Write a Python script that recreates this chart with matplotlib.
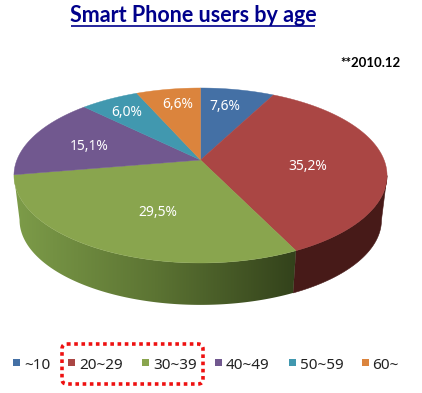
import numpy as np
import matplotlib
matplotlib.use('Agg')
import matplotlib.pyplot as plt
from matplotlib.colors import LinearSegmentedColormap
from matplotlib.patches import Polygon, FancyBboxPatch

ages = ['~10', '20~29', '30~39', '40~49', '50~59', '60~']
shares = [7.6, 35.2, 29.5, 15.1, 6.0, 6.6]
share_labels = ['7,6%', '35,2%', '29,5%', '15,1%', '6,0%', '6,6%']
colors = ['#4470a5', '#aa4644', '#89a54e', '#71588f', '#4198af', '#db843d']

W, H = 422, 393
CX, CY = 200.5, 160.0
A, B, K = 183.6, 84.75, 0.177


def project(t, scale=1.0, cy=CY):
    # t in radians clockwise from 12 o'clock, perspective view of the disc
    u, v = np.sin(t), np.cos(t)
    w = 1 + K * v
    return CX + scale * A * u / w, cy - scale * B * v / w


def wall(i):
    # outline of the visible side wall below slice i
    ts = np.linspace(edges[i], edges[i + 1], 300)
    x1, y1 = project(ts)
    keep = y1 >= 175
    x2, y2 = project(ts[keep], 0.97, 205)
    xs = np.concatenate([x1[keep], x2[::-1]])
    ys = np.concatenate([y1[keep], y2[::-1]])
    return np.column_stack([xs, ys])


fig = plt.figure(figsize=(W / 100, H / 100), dpi=100)
ax = fig.add_axes([0, 0, 1, 1])
ax.set_xlim(0, W)
ax.set_ylim(H, 0)
ax.axis('off')

edges = np.cumsum([0] + shares) / sum(shares) * 2 * np.pi

# side wall, only the red and green slices show
ax.add_patch(Polygon(wall(1), closed=True, facecolor='#471a18', edgecolor='#471a18', lw=0.4))

green_side = Polygon(wall(2), closed=True, facecolor='none', edgecolor='none')
ax.add_patch(green_side)
green_cmap = LinearSegmentedColormap.from_list('side', ['#7d9c49', '#5c7433', '#33421b'])
grad = np.linspace(0, 1, 256).reshape(1, -1)
img = ax.imshow(grad, cmap=green_cmap, extent=(14, 296, H, 0), aspect='auto', zorder=1)
img.set_clip_path(green_side)
ax.set_xlim(0, W)
ax.set_ylim(H, 0)

# top face
for i, col in enumerate(colors):
    ts = np.linspace(edges[i], edges[i + 1], 120)
    xs, ys = project(ts)
    pts = [(CX, CY)] + list(zip(xs, ys))
    ax.add_patch(Polygon(pts, closed=True, facecolor=col, edgecolor=col, lw=0.3, zorder=2))

label_xy = [(225, 106), (308, 166), (158, 212), (89, 146), (127, 112), (178, 105)]
for txt, (x, y) in zip(share_labels, label_xy):
    ax.text(x, y, txt, color='white', fontsize=10, family='Noto Sans',
            ha='center', va='center', zorder=3)

# title
ax.text(193, 16, 'Smart Phone users by age', color='#00008b', fontsize=15.5,
        family='Lato', weight='bold', ha='center', va='center')
ax.plot([71, 315], [25.5, 25.5], color='#00008b', lw=1.2, solid_capstyle='butt')
ax.text(370, 63, '**2010.12', color='black', fontsize=9.5, family='Lato',
        weight='bold', ha='center', va='center')

# legend
square_x = [13, 68, 142, 215, 289, 362]
text_x = [24, 79, 153, 226, 300, 372]
for sx, tx, name, col in zip(square_x, text_x, ages, colors):
    ax.add_patch(plt.Rectangle((sx, 359), 7, 7, facecolor=col, edgecolor='none'))
    ax.text(tx, 365.5, name, color='#222222', fontsize=11, family='Noto Sans',
            ha='left', va='center')

box = FancyBboxPatch((65, 347), 135, 34, boxstyle='round,pad=3,rounding_size=5',
                     facecolor='none', edgecolor='#ee1111', lw=2.6,
                     linestyle=(0, (1, 1)))
ax.add_patch(box)

fig.savefig('out.png', dpi=100)
